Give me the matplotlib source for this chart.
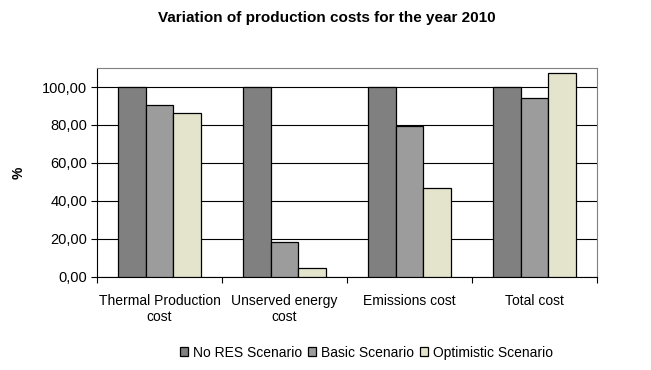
import numpy as np
import matplotlib.pyplot as plt
from matplotlib.ticker import FuncFormatter

plt.rcParams['font.family'] = ['Liberation Sans', 'DejaVu Sans']

categories = ['Thermal Production\ncost', 'Unserved energy\ncost', 'Emissions cost', 'Total cost']
no_res = [100.0, 100.0, 100.0, 100.0]
basic = [90.6, 18.5, 79.7, 94.2]
optimistic = [86.4, 4.6, 47.1, 107.2]

series = [
    ('No RES Scenario', no_res, '#808080'),
    ('Basic Scenario', basic, '#9c9c9c'),
    ('Optimistic Scenario', optimistic, '#e4e4cc'),
]


def comma_formatter(y, pos):
    return f'{y:.2f}'.replace('.', ',')


fig = plt.figure(figsize=(6.51, 3.70), dpi=100)
ax = fig.add_axes([0.149, 0.2514, 0.768, 0.5648])

x = np.arange(len(categories))
w = 0.222
for i, (name, vals, col) in enumerate(series):
    ax.bar(x + (i - 1) * w, vals, w, color=col, edgecolor='black', linewidth=0.9,
           label=name, zorder=3)

ax.set_xlim(-0.5, len(categories) - 0.5)
ax.set_ylim(0, 110)
ax.set_yticks(np.arange(0, 101, 20))
ax.yaxis.set_major_formatter(FuncFormatter(comma_formatter))
ax.yaxis.grid(True, color='black', linewidth=0.8, zorder=0)

# category labels sit between the boundary ticks
ax.set_xticks(np.arange(-0.5, len(categories), 1.0))
ax.set_xticklabels([])
ax.set_xticks(x, minor=True)
ax.set_xticklabels(categories, minor=True, fontsize=10)
ax.tick_params(axis='x', which='minor', length=0, pad=12)
ax.tick_params(axis='x', which='major', length=4, width=0.8, direction='out')
ax.tick_params(axis='y', length=4, width=0.8, labelsize=10.5, pad=3)

for s in ['top', 'right']:
    ax.spines[s].set_color('#808080')
    ax.spines[s].set_linewidth(0.8)
for s in ['left', 'bottom']:
    ax.spines[s].set_linewidth(0.8)

ax.set_ylabel('%', fontsize=10, fontweight='bold', labelpad=12)

fig.suptitle('Variation of production costs for the year 2010', x=0.502, y=0.97,
             fontsize=11, fontweight='bold')

fig.legend(loc='center', bbox_to_anchor=(0.563, 0.047), ncol=3, frameon=False,
           fontsize=10, handlelength=0.6, handleheight=0.6, handletextpad=0.35,
           columnspacing=0.4)

fig.savefig('out.png', dpi=100)
